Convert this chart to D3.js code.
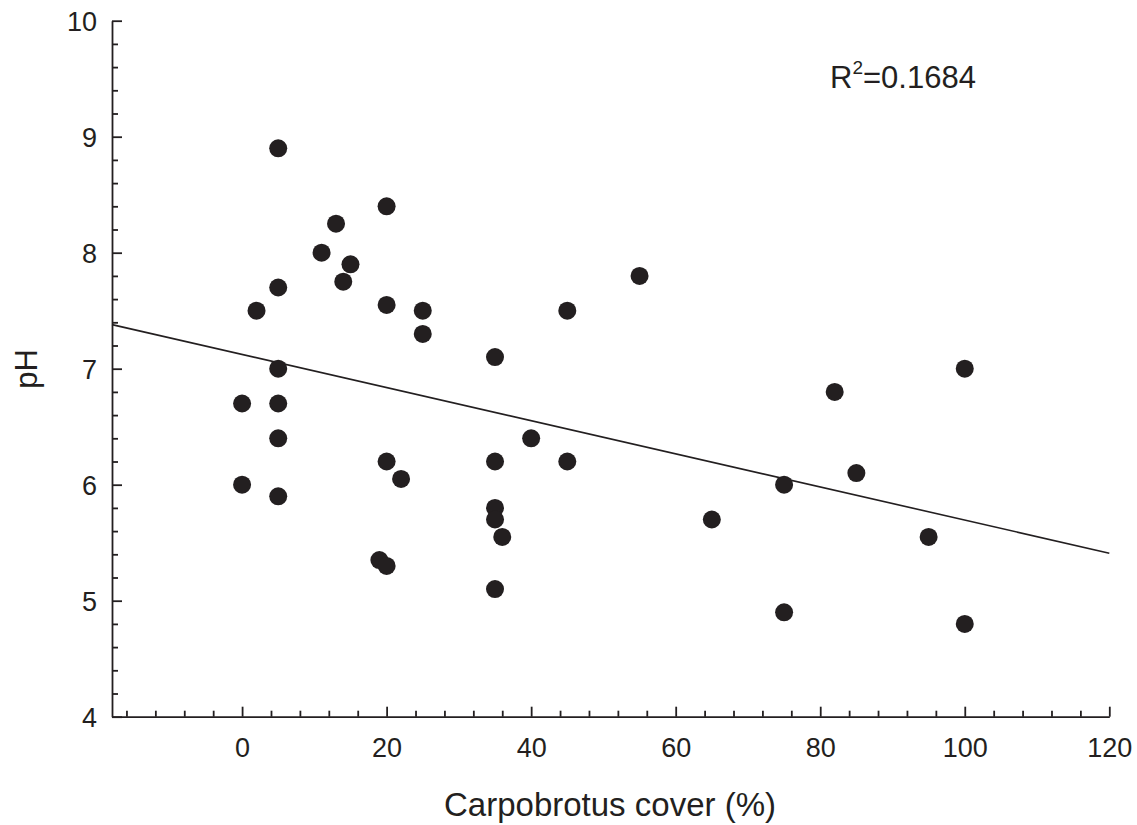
<!DOCTYPE html>
<html>
<head>
<meta charset="utf-8">
<script src="https://cdn.jsdelivr.net/npm/d3@7"></script>
<style>
  html, body { margin: 0; padding: 0; background: #fff; }
  svg { display: block; }
  text { font-family: "Liberation Sans", Arial, sans-serif; fill: #231f20; }
</style>
</head>
<body>
<svg id="chart" width="1137" height="825"></svg>
<script>
// ---- data ----
const coverPct = [5, 13, 20, 11, 15, 14, 5, 2, 20, 25, 25, 45, 55, 35, 5, 0, 5, 5, 0, 5,
                  20, 22, 19, 20, 35, 40, 45, 35, 35, 36, 35, 65, 75, 75, 82, 85, 95, 100, 100];
const pHValues = [8.9, 8.25, 8.4, 8.0, 7.9, 7.75, 7.7, 7.5, 7.55, 7.5, 7.3, 7.5, 7.8, 7.1, 7.0, 6.7, 6.7, 6.4, 6.0, 5.9,
                  6.2, 6.05, 5.35, 5.3, 6.2, 6.4, 6.2, 5.8, 5.7, 5.55, 5.1, 5.7, 6.0, 4.9, 6.8, 6.1, 5.55, 7.0, 4.8];
const xDomain = [-18, 120];
const yDomain = [4, 10];
const xMajorTicks = [0, 20, 40, 60, 80, 100, 120];
const xMinorTicks = [-16, -12, -8, -4, 4, 8, 12, 16, 24, 28, 32, 36, 44, 48, 52, 56, 64, 68, 72, 76, 84, 88, 92, 96, 104, 108, 112, 116];
const yMajorTicks = [4, 5, 6, 7, 8, 9, 10];
const yMinorTicks = [4.2, 4.4, 4.6, 4.8, 5.2, 5.4, 5.6, 5.8, 6.2, 6.4, 6.6, 6.8, 7.2, 7.4, 7.6, 7.8, 8.2, 8.4, 8.6, 8.8, 9.2, 9.4, 9.6, 9.8];
const fitIntercept = 7.123;
const fitSlope = -0.01428;
const r2Label = "0.1684";
const xTitle = "Carpobrotus cover (%)";
const yTitle = "pH";

// ---- drawing ----
const ink = "#231f20";
const svg = d3.select("#chart");
const x = d3.scaleLinear().domain(xDomain).range([112, 1109.3]);
const y = d3.scaleLinear().domain(yDomain).range([716.7, 20.7]);

const points = coverPct.map((c, i) => ({ x: c, y: pHValues[i] }));

// regression line
const fitLine = xDomain.map(v => ({ x: v, y: fitIntercept + fitSlope * v }));
svg.append("path")
  .datum(fitLine)
  .attr("fill", "none")
  .attr("stroke", ink)
  .attr("stroke-width", 1.6)
  .attr("d", d3.line().x(d => x(d.x)).y(d => y(d.y)));

// points
svg.append("g").selectAll("circle")
  .data(points)
  .join("circle")
  .attr("cx", d => x(d.x))
  .attr("cy", d => y(d.y))
  .attr("r", 9)
  .attr("fill", ink);

// x axis
const xAxisG = svg.append("g").attr("transform", `translate(0,${y(yDomain[0])})`);
xAxisG.call(d3.axisBottom(x).tickValues(xMajorTicks).tickSizeInner(-10).tickSizeOuter(0).tickPadding(21).tickFormat(d3.format("d")));
const xMinorG = svg.append("g").attr("transform", `translate(0,${y(yDomain[0])})`);
xMinorG.call(d3.axisBottom(x).tickValues(xMinorTicks).tickSizeInner(-6).tickSizeOuter(0).tickFormat(""));
xMinorG.select(".domain").remove();

// y axis
const yAxisG = svg.append("g").attr("transform", `translate(${x(xDomain[0])},0)`);
yAxisG.call(d3.axisLeft(y).tickValues(yMajorTicks).tickSizeInner(-10).tickSizeOuter(0).tickPadding(15).tickFormat(d3.format("d")));
const yMinorG = svg.append("g").attr("transform", `translate(${x(xDomain[0])},0)`);
yMinorG.call(d3.axisLeft(y).tickValues(yMinorTicks).tickSizeInner(-6).tickSizeOuter(0).tickFormat(""));
yMinorG.select(".domain").remove();

[xAxisG, xMinorG, yAxisG, yMinorG].forEach(g => {
  g.selectAll("path, line").attr("stroke", ink).attr("stroke-width", 1.8);
  g.selectAll("text")
    .attr("fill", ink)
    .style("font-family", '"Liberation Sans", Arial, sans-serif')
    .style("font-size", "27px");
});
yAxisG.selectAll(".tick text").attr("dy", "0.36em");

// axis titles
svg.append("text")
  .attr("x", 610)
  .attr("y", 816)
  .attr("text-anchor", "middle")
  .style("font-size", "33px")
  .text(xTitle);

svg.append("text")
  .attr("transform", "translate(37,369) rotate(-90)")
  .attr("text-anchor", "middle")
  .style("font-size", "31px")
  .text(yTitle);

// R^2 annotation
const r2 = svg.append("text")
  .attr("x", 830)
  .attr("y", 88)
  .style("font-size", "31px");
r2.append("tspan").text("R");
r2.append("tspan").attr("dy", -14).style("font-size", "19px").text("2");
r2.append("tspan").attr("dy", 14).text("=" + r2Label);
</script>
</body>
</html>
